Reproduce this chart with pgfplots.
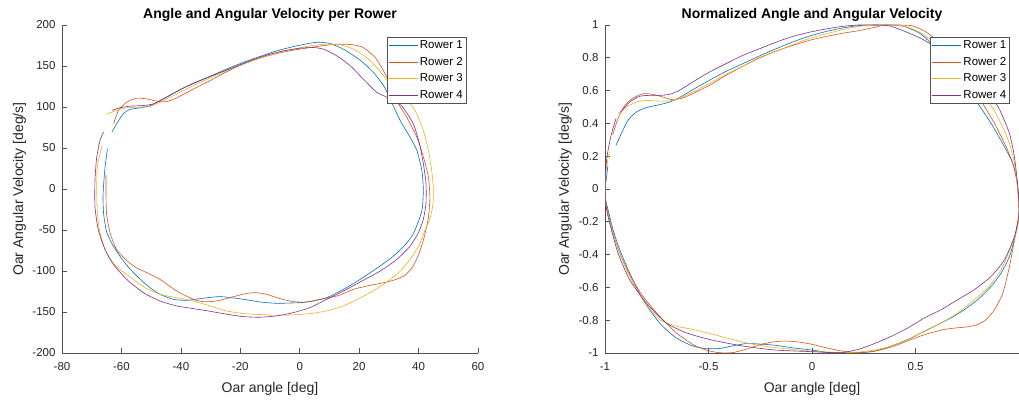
\documentclass[border=0pt]{standalone}
\usepackage{pgfplots}
\pgfplotsset{compat=1.18}
\usepackage{fontspec}
\setmainfont{Liberation Sans}
\definecolor{c1}{rgb}{0,0.447,0.741}
\definecolor{c2}{rgb}{0.850,0.325,0.098}
\definecolor{c3}{rgb}{0.929,0.694,0.125}
\definecolor{c4}{rgb}{0.494,0.184,0.556}
\definecolor{axc}{rgb}{0.15,0.15,0.15}
\pgfplotsset{
  limg/.style={draw=#1, legend image code/.code={\pgfsetlinewidth{0.8pt}\pgfsetstrokecolor{#1}\pgfpathmoveto{\pgfpoint{0pt}{0pt}}\pgfpathlineto{\pgfpoint{29pt}{0pt}}\pgfusepath{stroke}}},
  mlab/.style={
    scale only axis,
    axis x line*=bottom, axis y line*=left,
    axis line style={-, draw=axc!80, line width=0.6pt},
    tick style={draw=axc!80, line width=0.6pt},
    major tick length=5pt, tick align=inside,
    ticklabel style={font=\fontsize{11.5}{13}\selectfont, text=axc},
    xticklabel style={yshift=-6pt},
    yticklabel style={xshift=-3pt},
    xlabel style={font=\fontsize{14}{16}\selectfont, text=axc, at={(axis description cs:0.5,0)}, anchor=base, yshift=-39.5pt, inner sep=0pt},
    title style={font=\fontsize{14}{16}\selectfont\bfseries, text=black, at={(axis description cs:0.5,1)}, anchor=base, yshift=0pt, inner sep=0pt},
    legend cell align=left,
    every axis plot/.append style={line width=0.6pt, smooth, tension=0.4, no marks},
    clip=true,
  }
}
\begin{document}
\begin{tikzpicture}[x=1pt,y=1pt]
\begin{axis}[mlab,
  at={(62pt,48pt)}, anchor=south west, width=416pt, height=328pt,
  xmin=-80, xmax=60, ymin=-200, ymax=200,
  xtick={-80,-60,-40,-20,0,20,40,60},
  xticklabels={-80,-60,-40,-20,0,20,40,60},
  ytick={-200,-150,-100,-50,0,50,100,150,200},
  yticklabels={-200,-150,-100,-50,0,50,100,150,200},
  title={Angle and Angular Velocity per Rower},
  xlabel={Oar angle [deg]},
  ylabel={Oar Angular Velocity [deg/s]},
  ylabel style={font=\fontsize{14}{16}\selectfont, text=axc, at={(axis description cs:-0.0935,0.5)}, anchor=base, rotate=0, inner sep=0pt},
  legend style={at={(0.971,0.963)}, anchor=north east, draw=none, fill=white, name=legL,
    font=\fontsize{11.5}{13}\selectfont, inner xsep=1pt, inner ysep=0.75pt, row sep=1.5pt,
    nodes={inner sep=2pt, text height=8.5pt, text depth=2.5pt}},
]
\addplot[limg=c1] coordinates {(-63.2,69.5) (-61.6,79.6) (-59.4,91.7) (-57.1,97) (-53.7,99) (-50.4,101.4) (-47,107.9) (-41.4,118.8) (-35.8,128.9) (-30.2,137.4) (-24.6,146.3) (-19,154.4) (-13.4,161.6) (-7.7,168.5) (-2.1,173.7) (3.5,177.8) (6.3,179) (10.2,177.4) (14.7,170.5) (20.3,157.2) (24.8,142.2) (28.2,126.1) (30.4,110) (33.8,83.6) (37.1,63.4) (39.4,47.3) (41.1,23) (41.6,-1.2) (41.2,-25) (39.9,-40) (38.3,-54) (36,-66) (31.5,-82) (27,-94) (20.3,-110.3) (14.7,-122.4) (9.1,-132.5) (4.6,-136.6) (0.1,-138.6) (-7.7,-139.4) (-13.3,-137.8) (-18.9,-134.5) (-26.8,-131.3) (-33.5,-133.7) (-38,-135.8) (-42.5,-134.5) (-47,-128.5) (-50.5,-120) (-53.7,-110) (-57.5,-96) (-60.5,-82) (-63,-68) (-65,-52) (-66,-30) (-66.2,-10) (-66,5) (-65.5,27) (-64.7,49.3)};
\addlegendentry{Rower 1}
\addplot[limg=c2] coordinates {(-62.6,79.6) (-61,95.8) (-58.2,105.9) (-54.9,110.7) (-51.5,109.9) (-48.1,107.1) (-44.8,106.7) (-41.4,111.1) (-35.8,122) (-30.2,132.1) (-24.6,143) (-19,152.3) (-13.4,159.6) (-7.7,165.3) (-2.1,169.3) (3.5,172.5) (9.1,175.4) (13.6,176.6) (18.1,175.8) (21.4,172.5) (25.4,160.4) (28.2,144.2) (30.4,128.1) (32.6,107.9) (36,87.6) (39.4,63.4) (41.6,39.2) (43.3,14.9) (43.8,-10) (43.3,-35) (41.8,-60) (40,-80) (38,-95) (35.5,-105) (32.6,-110) (29.8,-113) (27,-115.2) (22.5,-118.4) (18.1,-122.4) (12.5,-130.5) (6.8,-134.5) (2.4,-137.8) (-2.1,-137.4) (-6.6,-133.7) (-11.1,-128.5) (-14.5,-126.5) (-17.8,-127.3) (-22.3,-131.3) (-28,-136.6) (-32.4,-137.4) (-35.8,-134.5) (-41.4,-124.4) (-47,-110.3) (-51.5,-102) (-55,-96) (-58,-88) (-61.6,-74) (-63.8,-54) (-65,-30) (-65.2,-1) (-65.2,17)};
\addlegendentry{Rower 2}
\addplot[limg=c3] coordinates {(-64.85,91.7) (-61.6,95.8) (-58.2,99) (-53.7,99.8) (-50.4,100.6) (-47,105.9) (-41.4,116) (-35.8,126.1) (-30.2,135.4) (-24.6,144.2) (-19,152.3) (-13.4,159.6) (-7.7,165.7) (-2.1,170.5) (3.5,174.6) (9.1,176.6) (13.6,175.8) (18.1,170.5) (22.5,160.4) (25.9,148.3) (28.2,138.2) (31,125) (34,112) (37.1,104.6) (39.4,91.8) (41.6,71.5) (43.3,47.3) (44.4,23) (45,-1.2) (44.8,-20) (43.9,-35) (42.2,-50) (40,-69.9) (37.1,-86) (33.8,-100.2) (30.4,-110.3) (26,-121.6) (20.3,-132.9) (14.7,-142.6) (9.1,-148.7) (3.5,-151.9) (-2.1,-153.5) (-7.7,-153.9) (-13.4,-153.1) (-19,-151.9) (-24.6,-148.7) (-30.2,-142.6) (-35.8,-136.6) (-41.4,-132.5) (-47,-128.5) (-52.6,-119.2) (-58.2,-104.2) (-61.6,-95) (-65,-78) (-67.2,-53.7) (-68.1,-29.5) (-68.3,-1.2) (-68.1,27) (-66.5,53.3)};
\addlegendentry{Rower 3}
\addplot[limg=c4] coordinates {(-63.2,95.8) (-60.5,99) (-57.1,101) (-52.6,101.8) (-49.2,103.9) (-44.8,111.9) (-39.2,123.2) (-33.5,132.1) (-28,140.2) (-22.3,148.3) (-16.7,156.4) (-11.1,163.2) (-5.5,168.5) (0.1,171.7) (4.6,172.5) (8,170.5) (12.5,162.4) (17,150.3) (21.4,134.1) (25.9,118) (29.3,111.9) (34.2,101.8) (38.2,79.6) (40.3,55.4) (41.6,31.2) (42.5,6.9) (42.5,-17.3) (41.6,-37) (39.9,-53.7) (37.1,-69.9) (32.6,-86.1) (27,-100.2) (20.3,-113.5) (14.7,-124.4) (9.1,-134.5) (3.5,-144.6) (-2.1,-150.7) (-7.7,-154.7) (-13.4,-156.4) (-19,-155.6) (-24.6,-152.7) (-30.2,-149.1) (-35.8,-145.9) (-41.4,-142.6) (-47,-136.6) (-52.6,-126.5) (-58.2,-110.3) (-62.7,-92) (-65.5,-73.9) (-67.8,-49.7) (-68.9,-21.5) (-68.9,10.9) (-68.3,39.2) (-67.2,59.4) (-66,69.5)};
\addlegendentry{Rower 4}
\end{axis}
\draw[axc!80, line width=0.6pt] (legL.south west) rectangle (legL.north east);
\begin{axis}[mlab,
  at={(605pt,48pt)}, anchor=south west, width=414pt, height=328pt,
  xmin=-1, xmax=1, ymin=-1, ymax=1,
  xtick={-1,-0.5,0,0.5,1},
  xticklabels={-1,-0.5,0,0.5,{}},
  ytick={-1,-0.8,-0.6,-0.4,-0.2,0,0.2,0.4,0.6,0.8,1},
  yticklabels={-1,-0.8,-0.6,-0.4,-0.2,0,0.2,0.4,0.6,0.8,1},
  title={Normalized Angle and Angular Velocity},
  xlabel={Oar angle [deg]},
  ylabel={Oar Angular Velocity [deg/s]},
  ylabel style={font=\fontsize{14}{16}\selectfont, text=axc, at={(axis description cs:-0.087,0.5)}, anchor=base, rotate=0, inner sep=0pt},
  legend style={at={(0.977,0.9625)}, anchor=north east, draw=none, fill=white, name=legR,
    font=\fontsize{11.5}{13}\selectfont, inner xsep=1pt, inner ysep=0.75pt, row sep=1.5pt,
    nodes={inner sep=2pt, text height=8.5pt, text depth=2.5pt}},
]
\addplot[limg=c1] coordinates {(-0.947,0.267) (-0.921,0.338) (-0.889,0.419) (-0.849,0.469) (-0.801,0.496) (-0.737,0.514) (-0.689,0.530) (-0.641,0.557) (-0.577,0.605) (-0.497,0.662) (-0.417,0.716) (-0.336,0.763) (-0.256,0.810) (-0.176,0.854) (-0.096,0.895) (-0.016,0.931) (0.064,0.959) (0.144,0.981) (0.224,0.996) (0.305,1.0) (0.385,1.0) (0.449,0.990) (0.513,0.955) (0.545,0.925) (0.62,0.83) (0.71,0.68) (0.801,0.520) (0.866,0.399) (0.930,0.257) (0.970,0.156) (0.99,0.05) (1.0,-0.1) (0.995,-0.2) (0.977,-0.310) (0.954,-0.411) (0.914,-0.512) (0.866,-0.593) (0.801,-0.674) (0.737,-0.735) (0.673,-0.785) (0.609,-0.826) (0.545,-0.866) (0.481,-0.907) (0.417,-0.941) (0.353,-0.971) (0.289,-0.992) (0.224,-0.998) (0.144,-1.0) (0.064,-0.994) (0.0,-0.982) (-0.096,-0.968) (-0.176,-0.953) (-0.256,-0.945) (-0.320,-0.943) (-0.385,-0.957) (-0.449,-0.973) (-0.513,-0.973) (-0.577,-0.957) (-0.657,-0.907) (-0.737,-0.816) (-0.817,-0.674) (-0.881,-0.512) (-0.929,-0.370) (-0.961,-0.249) (-0.985,-0.128) (-0.997,-0.067) (-1.0,0.0) (-0.993,0.07) (-0.986,0.14)};
\addlegendentry{Rower 1}
\addplot[limg=c2] coordinates {(-0.963,0.33) (-0.94,0.42) (-0.91,0.5) (-0.87,0.55) (-0.817,0.581) (-0.769,0.577) (-0.721,0.561) (-0.673,0.544) (-0.625,0.555) (-0.577,0.581) (-0.497,0.631) (-0.417,0.692) (-0.336,0.747) (-0.256,0.799) (-0.176,0.840) (-0.096,0.874) (-0.016,0.905) (0.064,0.929) (0.144,0.949) (0.224,0.965) (0.305,0.986) (0.353,1.0) (0.417,1.0) (0.481,0.996) (0.513,0.981) (0.561,0.949) (0.65,0.85) (0.75,0.68) (0.825,0.520) (0.882,0.399) (0.938,0.257) (0.975,0.135) (0.995,0.0) (1.0,-0.15) (0.978,-0.310) (0.954,-0.472) (0.922,-0.634) (0.882,-0.735) (0.842,-0.795) (0.801,-0.826) (0.753,-0.840) (0.705,-0.846) (0.641,-0.856) (0.577,-0.876) (0.513,-0.901) (0.449,-0.933) (0.385,-0.963) (0.305,-0.988) (0.224,-0.998) (0.144,-0.988) (0.064,-0.967) (0.0,-0.947) (-0.064,-0.933) (-0.128,-0.927) (-0.192,-0.933) (-0.256,-0.951) (-0.320,-0.978) (-0.385,-0.998) (-0.449,-0.998) (-0.513,-0.982) (-0.577,-0.947) (-0.657,-0.876) (-0.737,-0.775) (-0.817,-0.654) (-0.881,-0.522) (-0.929,-0.391) (-0.961,-0.269) (-0.985,-0.148) (-0.997,-0.067) (-1.0,0.0) (-0.995,0.06)};
\addlegendentry{Rower 2}
\addplot[limg=c3] coordinates {(-0.936,0.46) (-0.897,0.500) (-0.849,0.530) (-0.801,0.540) (-0.737,0.536) (-0.673,0.540) (-0.609,0.571) (-0.545,0.611) (-0.465,0.666) (-0.385,0.718) (-0.304,0.767) (-0.224,0.814) (-0.144,0.854) (-0.064,0.895) (0.016,0.929) (0.096,0.955) (0.176,0.980) (0.256,0.996) (0.337,1.0) (0.401,1.0) (0.465,0.986) (0.529,0.949) (0.62,0.86) (0.72,0.72) (0.858,0.520) (0.906,0.419) (0.954,0.277) (0.978,0.156) (0.992,0.02) (1.0,-0.15) (0.99,-0.25) (0.962,-0.350) (0.914,-0.492) (0.849,-0.603) (0.785,-0.674) (0.705,-0.755) (0.625,-0.816) (0.545,-0.866) (0.465,-0.917) (0.385,-0.957) (0.305,-0.982) (0.224,-0.994) (0.144,-0.998) (0.064,-0.994) (-0.016,-0.988) (-0.096,-0.978) (-0.176,-0.967) (-0.256,-0.953) (-0.336,-0.933) (-0.417,-0.907) (-0.497,-0.880) (-0.577,-0.856) (-0.657,-0.836) (-0.737,-0.795) (-0.817,-0.674) (-0.881,-0.532) (-0.929,-0.391) (-0.961,-0.269) (-0.985,-0.158) (-0.998,-0.067) (-1.0,0.05) (-0.99,0.15) (-0.979,0.227)};
\addlegendentry{Rower 3}
\addplot[limg=c4] coordinates {(-0.923,0.47) (-0.881,0.530) (-0.833,0.565) (-0.785,0.571) (-0.737,0.571) (-0.689,0.577) (-0.641,0.601) (-0.577,0.652) (-0.497,0.712) (-0.417,0.763) (-0.336,0.814) (-0.256,0.854) (-0.176,0.894) (-0.096,0.929) (-0.016,0.955) (0.064,0.975) (0.144,0.991) (0.224,1.0) (0.305,1.0) (0.369,0.996) (0.433,0.969) (0.497,0.935) (0.545,0.905) (0.65,0.82) (0.78,0.66) (0.889,0.520) (0.922,0.439) (0.954,0.338) (0.975,0.217) (0.986,0.115) (0.995,0.0) (1.0,-0.15) (0.978,-0.289) (0.930,-0.431) (0.866,-0.532) (0.785,-0.613) (0.705,-0.674) (0.625,-0.735) (0.545,-0.785) (0.465,-0.846) (0.385,-0.897) (0.305,-0.941) (0.224,-0.978) (0.144,-0.998) (0.064,-0.996) (0,-0.992) (-0.176,-0.982) (-0.336,-0.957) (-0.497,-0.917) (-0.609,-0.876) (-0.705,-0.816) (-0.801,-0.694) (-0.881,-0.553) (-0.937,-0.391) (-0.969,-0.249) (-0.989,-0.148) (-0.998,-0.067) (-1.0,0.05) (-0.99,0.2) (-0.97,0.33) (-0.947,0.429)};
\addlegendentry{Rower 4}
\end{axis}
\draw[axc!80, line width=0.6pt] (legR.south west) rectangle (legR.north east);
\pgfresetboundingbox
\path[use as bounding box] (0pt,0pt) rectangle (1019pt,401pt);
\end{tikzpicture}
\end{document}
